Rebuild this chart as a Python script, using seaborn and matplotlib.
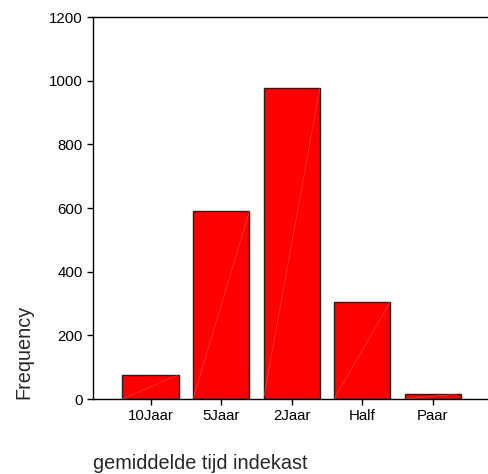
import matplotlib
matplotlib.use("Agg")
import matplotlib.pyplot as plt
import pandas as pd
import seaborn as sns

CATEGORIES = ["10Jaar", "5Jaar", "2Jaar", "Half", "Paar"]
FREQUENCIES = [77, 590, 978, 306, 17]
Y_TICKS = [0, 200, 400, 600, 800, 1000, 1200]

X_LABEL = "gemiddelde tijd indekast"
Y_LABEL = "Frequency"


def main() -> None:
    sns.set_style("ticks")
    plt.rcParams["font.family"] = ["Liberation Sans", "DejaVu Sans"]

    data = pd.DataFrame({"category": CATEGORIES, "frequency": FREQUENCIES})

    fig = plt.figure(figsize=(4.88, 4.74), dpi=100)
    ax = fig.add_axes([0.1906, 0.1582, 0.8094, 0.8059])

    sns.barplot(
        data=data,
        x="category",
        y="frequency",
        color="#ff0000",
        saturation=1,
        edgecolor="#202020",
        linewidth=1,
        width=0.8,
        ax=ax,
    )

    # faint diagonal streak inside each bar, like the original export
    for patch in ax.patches:
        x0 = patch.get_x()
        x1 = x0 + patch.get_width()
        h = patch.get_height()
        ax.plot([x0, x1], [0, h], color="#ff8080", linewidth=0.4, alpha=0.6, zorder=3)

    ax.set_xlim(-0.818, 4.784)
    ax.set_ylim(0, 1200)
    ax.set_yticks(Y_TICKS)

    for side in ["left", "bottom", "top"]:
        ax.spines[side].set_visible(True)
        ax.spines[side].set_color("black")
        ax.spines[side].set_linewidth(1)
    ax.spines["right"].set_visible(False)

    ax.tick_params(axis="both", direction="out", length=4, width=1, colors="black", labelsize=10.8)

    ax.set_xlabel(X_LABEL, fontsize=14.3, loc="left", labelpad=22)
    ax.set_ylabel(Y_LABEL, fontsize=14.3, loc="bottom", labelpad=11)

    fig.savefig("out.png", dpi=100)


if __name__ == "__main__":
    main()
